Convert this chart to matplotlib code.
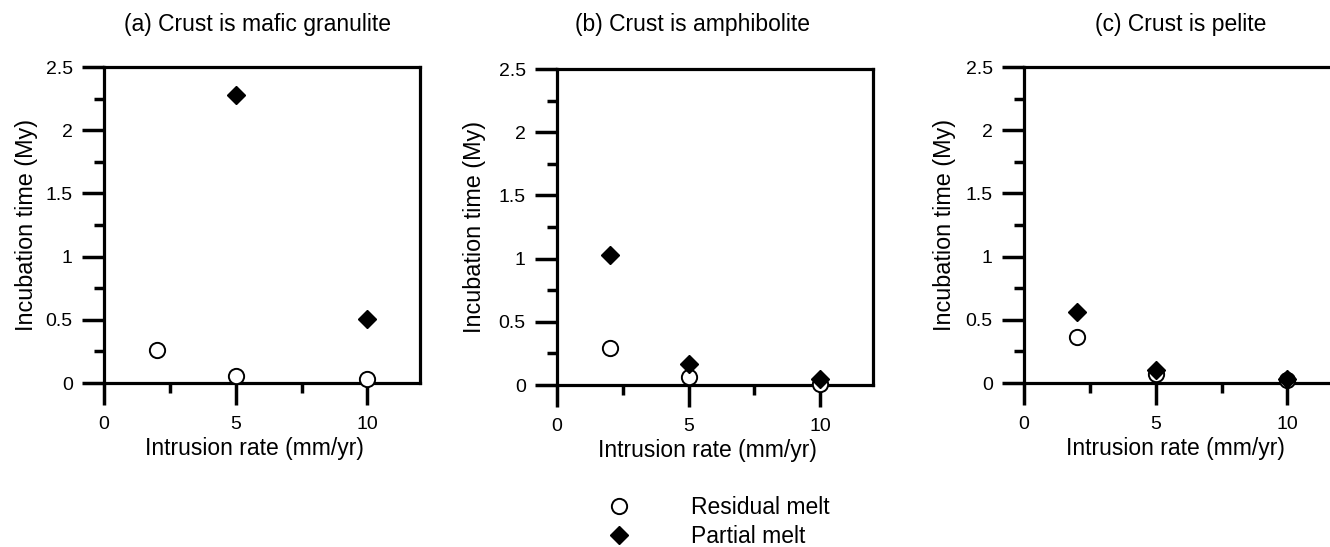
import matplotlib
matplotlib.use("Agg")
import matplotlib.pyplot as plt
from matplotlib.ticker import MultipleLocator, FixedLocator, FixedFormatter
from matplotlib.lines import Line2D

plt.rcParams['font.family'] = ['Liberation Sans', 'DejaVu Sans']

# ---- data ----
titles = ["(a) Crust is mafic granulite", "(b) Crust is amphibolite", "(c) Crust is pelite"]
xlabel = "Intrusion rate (mm/yr)"
ylabel = "Incubation time (My)"
legend_labels = ["Residual melt", "Partial melt"]

residual_x = [[2, 5, 10], [2, 5, 10], [2, 5, 10]]
residual_y = [[0.26, 0.055, 0.03], [0.29, 0.06, 0.01], [0.36, 0.07, 0.025]]
partial_x = [[5, 10], [2, 5, 10], [2, 5, 10]]
partial_y = [[2.28, 0.51], [1.03, 0.17, 0.05], [0.56, 0.10, 0.03]]

xticks_major = [0, 5, 10]
xticklabels = ["0", "5", "10"]
yticks_major = [0, 0.5, 1, 1.5, 2, 2.5]
yticklabels = ["0", "0.5", "1", "1.5", "2", "2.5"]

# ---- layout (pixels) ----
W, H = 1330, 547
fig = plt.figure(figsize=(W / 100, H / 100), dpi=100)

panels = [  # left, top, bottom of plotting box in pixels
    (104, 67, 383),
    (557, 69, 385),
    (1024, 67, 383),
]
box_w = 316
title_pos = [(257, 24), (693, 25), (1181, 24)]
ylab_x = [27, 475, 944]
xlab_pos = [(254, 448), (707, 450), (1175, 448)]

lw = 2.3
for i, (l, t, b) in enumerate(panels):
    ax = fig.add_axes([l / W, (H - b) / H, box_w / W, (b - t) / H])
    ax.set_xlim(0, 12)
    ax.set_ylim(0, 2.5)
    for s in ax.spines.values():
        s.set_linewidth(lw)
    ax.xaxis.set_major_locator(FixedLocator(xticks_major))
    ax.xaxis.set_major_formatter(FixedFormatter(xticklabels))
    ax.xaxis.set_minor_locator(MultipleLocator(2.5))
    ax.yaxis.set_major_locator(FixedLocator(yticks_major))
    ax.yaxis.set_major_formatter(FixedFormatter(yticklabels))
    ax.yaxis.set_minor_locator(MultipleLocator(0.25))
    ax.tick_params(which='major', direction='out', length=16, width=2.5,
                   labelsize=14, pad=6.5)
    ax.tick_params(which='minor', direction='out', length=7.5, width=2.5)
    ax.tick_params(axis='x', which='major', pad=7.5)

    ax.plot(residual_x[i], residual_y[i], linestyle='none', marker='o',
            markersize=11, markerfacecolor='white', markeredgecolor='black',
            markeredgewidth=1.4, clip_on=False, zorder=3)
    ax.plot(partial_x[i], partial_y[i], linestyle='none', marker='D',
            markersize=9.2, markerfacecolor='black', markeredgecolor='black',
            clip_on=False, zorder=4)

    fig.text(title_pos[i][0] / W, 1 - title_pos[i][1] / H, titles[i],
             ha='center', va='center', fontsize=16.5)
    fig.text(ylab_x[i] / W, 1 - ((t + b) / 2) / H, ylabel, rotation=90,
             ha='center', va='center', fontsize=16.8)
    fig.text(xlab_pos[i][0] / W, 1 - xlab_pos[i][1] / H, xlabel,
             ha='center', va='center', fontsize=16.5)

# legend
handles = [
    Line2D([], [], linestyle='none', marker='o', markersize=11,
           markerfacecolor='white', markeredgecolor='black', markeredgewidth=1.4),
    Line2D([], [], linestyle='none', marker='D', markersize=9.2,
           markerfacecolor='black', markeredgecolor='black'),
]
fig.legend(handles, legend_labels, loc='center left',
           bbox_to_anchor=(610 / W, 1 - 522 / H), frameon=False,
           fontsize=16.5, handlelength=0.8, handletextpad=2.75,
           labelspacing=0.3, borderpad=0, borderaxespad=0)

fig.savefig("out.png", dpi=100)
